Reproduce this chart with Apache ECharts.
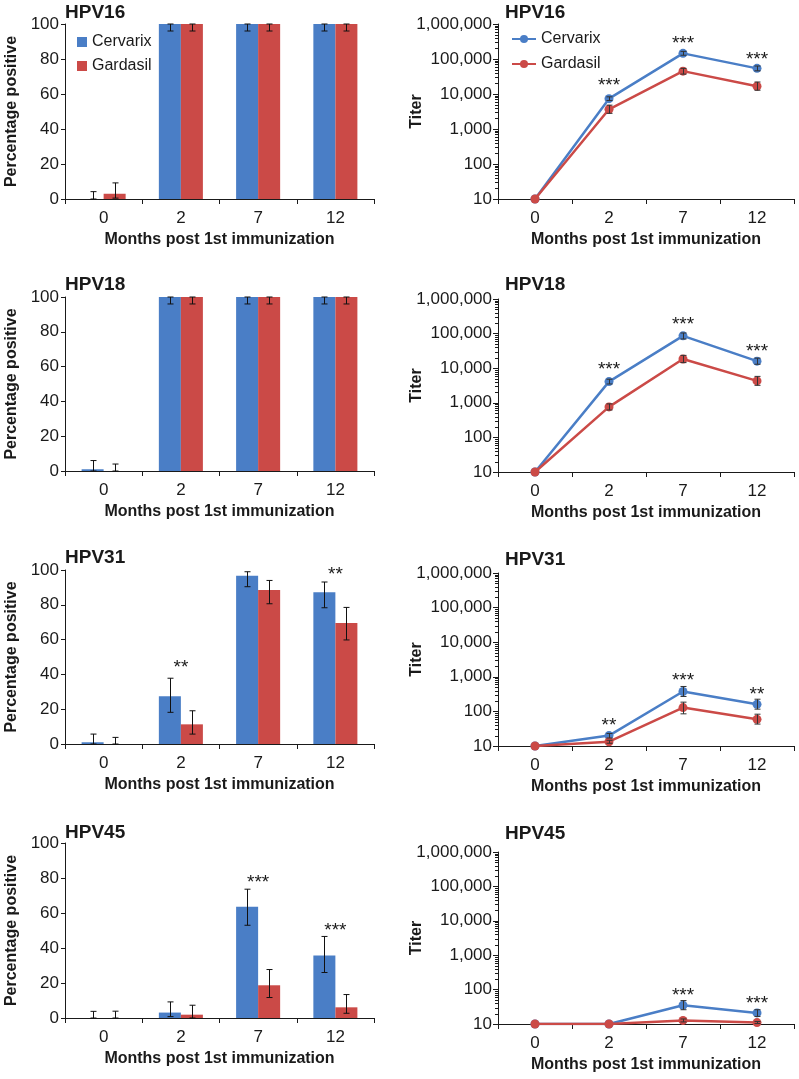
<!DOCTYPE html>
<html><head><meta charset="utf-8">
<script src="https://cdn.jsdelivr.net/npm/echarts@6/dist/echarts.min.js"></script>
<style>html,body{margin:0;padding:0;background:#fff}#c{width:799px;height:1079px}</style>
</head><body><div id="c"></div>
<script>
// ---------- data ----------
const months = ['0', '2', '7', '12'];
const panelNames = ['HPV16', 'HPV18', 'HPV31', 'HPV45'];
const seriesNames = ['Cervarix', 'Gardasil'];

// Percentage positive (bars), one row per panel
const pctCervarix     = [[0, 100, 100, 100], [1, 100, 100, 100], [1, 27.4, 96.7, 87.2], [0, 3.1, 63.6, 35.7]];
const pctCervarixLow  = [[0, 96, 96, 96],    [0, 96, 96, 96],    [0, 18.2, 90.4, 78.3], [0, 0.8, 53, 26]];
const pctCervarixHigh = [[4.2, 100, 100, 100], [6, 100, 100, 100], [5.7, 37.8, 99, 93.1], [3.8, 9.2, 73.6, 46.6]];
const pctGardasil     = [[3, 100, 100, 100], [0, 100, 100, 100], [0, 11.3, 88.5, 69.5], [0, 1.9, 18.7, 6.1]];
const pctGardasilLow  = [[0.5, 96, 96, 96],  [0, 96, 96, 96],    [0, 5.7, 80.6, 59.8],  [0, 0, 11.7, 2.7]];
const pctGardasilHigh = [[9.2, 100, 100, 100], [4, 100, 100, 100], [3.8, 19.1, 94, 78.5], [3.9, 7.3, 27.7, 13.4]];

// Titers (log lines)
const titerCervarix     = [[10, 7350, 145000, 54000], [10, 4100, 86000, 16000], [10, 20, 375, 160], [10, 10, 35, 21]];
const titerCervarixLow  = [[10, 6500, 128000, 46000], [10, 3500, 70000, 13000], [10, 17, 270, 116], [10, 10, 26, 16.6]];
const titerCervarixHigh = [[10, 8300, 165000, 63000], [10, 4800, 104000, 19500], [10, 23, 525, 225], [10, 10, 48, 26]];
const titerGardasil     = [[10, 3650, 45000, 16600], [10, 760, 18500, 4300], [10, 13.3, 129, 59], [10, 10, 12.7, 11]];
const titerGardasilLow  = [[10, 2800, 37000, 12800], [10, 620, 14500, 3200], [10, 12, 85, 43], [10, 10, 11.5, 10.3]];
const titerGardasilHigh = [[10, 4800, 54000, 22000], [10, 930, 23500, 5800], [10, 14.6, 185, 83], [10, 10, 14, 11.8]];

// Significance annotations: [category index, value, text]
const pctStars = [[], [], [[1, 46.6, '**'], [3, 100, '**']], [[2, 80.2, '***'], [3, 52.7, '***']]];
const titerStars = [
  [[1, 23400, '***'], [2, 372000, '***'], [3, 130000, '***']],
  [[1, 12600, '***'], [2, 243000, '***'], [3, 42000, '***']],
  [[1, 53, '**'], [2, 1070, '***'], [3, 420, '**']],
  [[2, 92, '***'], [3, 53, '***']]
];

// Axis ticks
const pctTicks = { min: 0, max: 100, interval: 20 };
const titerRange = { min: 10, max: 1000000 };
const minorFactors = [2, 3, 4, 5, 6, 7, 8, 9];

// ---------- layout / style ----------
const BLUE = '#4A7EC6', RED = '#CB4A47', INK = '#1a1a1a';
const FONT = '"Liberation Sans", Arial, sans-serif';
const leftLayout = [[24, 175], [297, 174], [570, 174], [843, 175]];
const rightLayout = [[24, 175], [299, 173], [573, 173], [852, 172]];
const leftTitleTop = [3, 275, 548, 823];
const rightTitleTop = [3, 275, 550, 824];
const CAT_GAP = 0.43;

const grids = [], xAxes = [], yAxes = [], series = [], titles = [];

function xAxisCfg(gi) {
  return {
    type: 'category', gridIndex: gi, data: months, boundaryGap: true,
    axisLine: { show: true, lineStyle: { color: INK, width: 1 } },
    axisTick: { show: true, length: 5, inside: false, lineStyle: { color: INK } },
    axisLabel: { fontSize: 17, color: INK, margin: 11, fontFamily: FONT },
    splitLine: { show: false },
    name: 'Months post 1st immunization', nameLocation: 'middle', nameGap: 33, nameMoveOverlap: false,
    nameTextStyle: { fontSize: 16, fontWeight: 'bold', color: INK, fontFamily: FONT }
  };
}

const minorVals = [];
for (let e = 1; e < 6; e++) minorFactors.forEach(f => minorVals.push(f * Math.pow(10, e)));

for (let i = 0; i < 4; i++) {
  const gl = 2 * i, gr = 2 * i + 1;
  grids.push({ left: 65, top: leftLayout[i][0], width: 309, height: leftLayout[i][1] });
  grids.push({ left: 498, top: rightLayout[i][0], width: 296, height: rightLayout[i][1] });
  xAxes.push(xAxisCfg(gl), xAxisCfg(gr));
  yAxes.push({
    type: 'value', gridIndex: gl, min: pctTicks.min, max: pctTicks.max, interval: pctTicks.interval,
    axisLine: { show: true, lineStyle: { color: INK } },
    axisTick: { show: true, length: 4, lineStyle: { color: INK } },
    axisLabel: { fontSize: 17, color: INK, margin: 6, fontFamily: FONT },
    splitLine: { show: false },
    name: 'Percentage positive', nameLocation: 'middle', nameGap: 45, nameRotate: 90, nameMoveOverlap: false,
    nameTextStyle: { fontSize: 16, fontWeight: 'bold', color: INK, fontFamily: FONT }
  });
  yAxes.push({
    type: 'log', logBase: 10, gridIndex: gr, min: titerRange.min, max: titerRange.max,
    axisLine: { show: true, lineStyle: { color: INK } },
    axisTick: { show: true, length: 5, lineStyle: { color: INK } },
    axisLabel: { fontSize: 17, color: INK, margin: 6, fontFamily: FONT,
      formatter: v => Number(v).toLocaleString('en-US') },
    splitLine: { show: false },
    name: 'Titer', nameLocation: 'middle', nameGap: 73, nameRotate: 90, nameMoveOverlap: false,
    nameTextStyle: { fontSize: 16, fontWeight: 'bold', color: INK, fontFamily: FONT }
  });
  titles.push({ text: panelNames[i], left: 65, top: leftTitleTop[i], padding: 0,
    textStyle: { fontSize: 19, fontWeight: 'bold', color: INK, fontFamily: FONT } });
  titles.push({ text: panelNames[i], left: 505, top: rightTitleTop[i], padding: 0,
    textStyle: { fontSize: 19, fontWeight: 'bold', color: INK, fontFamily: FONT } });
}

// line series first (legend icons on the right use them)
for (let i = 0; i < 4; i++) {
  const gr = 2 * i + 1;
  [[titerCervarix, BLUE, 0], [titerGardasil, RED, 1]].forEach(([arr, col, s]) => {
    series.push({
      type: 'line', name: seriesNames[s], xAxisIndex: gr, yAxisIndex: gr,
      data: arr[i], symbol: 'circle', symbolSize: 9, z: 3 + s,
      itemStyle: { color: col }, lineStyle: { color: col, width: 2.5 }, silent: true, animation: false
    });
  });
}
for (let i = 0; i < 4; i++) {
  const gl = 2 * i;
  [[pctCervarix, BLUE, 0], [pctGardasil, RED, 1]].forEach(([arr, col, s]) => {
    series.push({
      type: 'bar', name: seriesNames[s], xAxisIndex: gl, yAxisIndex: gl,
      data: arr[i], barGap: '0%', barCategoryGap: (CAT_GAP * 100) + '%',
      itemStyle: { color: col }, silent: true, animation: false
    });
  });
}

function errLines(cx, y1, y2, half, color) {
  const st = { stroke: color, lineWidth: 1 };
  return [
    { type: 'line', shape: { x1: cx, y1: y1, x2: cx, y2: y2 }, style: st },
    { type: 'line', shape: { x1: cx - half, y1: y1, x2: cx + half, y2: y1 }, style: st },
    { type: 'line', shape: { x1: cx - half, y1: y2, x2: cx + half, y2: y2 }, style: st }
  ];
}

for (let i = 0; i < 4; i++) {
  const gl = 2 * i, gr = 2 * i + 1;
  // bar error bars
  const barErr = [];
  months.forEach((m, k) => {
    barErr.push([k, pctCervarixLow[i][k], pctCervarixHigh[i][k], -1]);
    barErr.push([k, pctGardasilLow[i][k], pctGardasilHigh[i][k], 1]);
  });
  series.push({
    type: 'custom', xAxisIndex: gl, yAxisIndex: gl, z: 10, silent: true, animation: false,
    data: barErr,
    renderItem: (params, api) => {
      const k = api.value(0), side = api.value(3);
      const band = api.size([1, 0])[0];
      const bw = band * (1 - CAT_GAP) / 2;
      const cx = Math.round(api.coord([k, 0])[0] + side * bw / 2) + 0.5;
      const y1 = api.coord([k, api.value(1)])[1];
      const y2 = api.coord([k, api.value(2)])[1];
      return { type: 'group', children: errLines(cx, y1, y2, 3, '#111') };
    }
  });
  // line error bars
  const lineErr = [];
  months.forEach((m, k) => {
    lineErr.push([k, titerCervarixLow[i][k], titerCervarixHigh[i][k]]);
    lineErr.push([k, titerGardasilLow[i][k], titerGardasilHigh[i][k]]);
  });
  series.push({
    type: 'custom', xAxisIndex: gr, yAxisIndex: gr, z: 10, silent: true, animation: false,
    data: lineErr,
    renderItem: (params, api) => {
      const k = api.value(0);
      if (api.value(1) === api.value(2)) return null;
      const cx = Math.round(api.coord([k, 10])[0]) + 0.5;
      const y1 = api.coord([k, api.value(1)])[1];
      const y2 = api.coord([k, api.value(2)])[1];
      return { type: 'group', children: errLines(cx, y1, y2, 3, '#333') };
    }
  });
  // stars
  [[pctStars[i], gl], [titerStars[i], gr]].forEach(([arr, g]) => {
    if (!arr.length) return;
    series.push({
      type: 'custom', xAxisIndex: g, yAxisIndex: g, z: 11, silent: true, animation: false,
      data: arr.map(d => [d[0], d[1]]),
      renderItem: (params, api) => {
        const d = arr[params.dataIndex];
        const p = api.coord([d[0], d[1]]);
        return { type: 'text', x: p[0], y: p[1] + 5,
          style: { text: d[2], fontSize: 19, fontFamily: FONT, fill: INK, align: 'center', verticalAlign: 'middle' } };
      }
    });
  });
  // log minor ticks
  series.push({
    type: 'custom', xAxisIndex: gr, yAxisIndex: gr, z: 12, silent: true, animation: false,
    data: minorVals.map(v => [0, v]),
    renderItem: (params, api) => {
      const y = Math.round(api.coord([0, api.value(1)])[1]) + 0.5;
      const x = params.coordSys.x;
      return { type: 'line', shape: { x1: x - 3, y1: y, x2: x + 1, y2: y }, style: { stroke: INK, lineWidth: 1 } };
    }
  });
}

const chart = echarts.init(document.getElementById('c'), null, { renderer: 'canvas' });
chart.setOption({
  backgroundColor: '#fff',
  animation: false,
  title: titles,
  legend: [
    { data: seriesNames, orient: 'vertical', left: 77, top: 34, icon: 'rect', itemWidth: 10, itemHeight: 10,
      itemGap: 8, padding: 0, selectedMode: false, textStyle: { fontSize: 16, color: INK, fontFamily: FONT } },
    { data: seriesNames, orient: 'vertical', left: 511, top: 31, itemWidth: 24, itemHeight: 10,
      itemGap: 9, padding: 0, selectedMode: false, textStyle: { fontSize: 16, color: INK, fontFamily: FONT } }
  ],
  grid: grids, xAxis: xAxes, yAxis: yAxes, series: series
});
</script></body></html>
